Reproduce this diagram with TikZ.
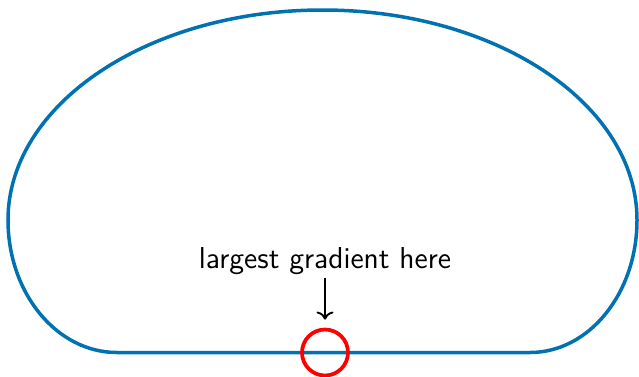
\documentclass[tikz,border=0pt]{standalone}
\usepackage{tikz}
\usetikzlibrary{arrows.meta, positioning, calc}
\definecolor{curveblue}{RGB}{0,114,178}
\tikzstyle{arrow} = [line width=0.75pt, ->]

\begin{document}
\begin{tikzpicture}[
	x=0.4pt, y=0.4pt,
	outline/.style={draw=curveblue, line width=1.4pt},
	spot/.style={circle, draw=red, line width=1.5pt, minimum size=18.4pt, inner sep=0pt},
	note/.style={font=\sffamily\fontsize{12.1}{14.5}\selectfont, inner sep=1pt}
]
\useasboundingbox (0,0) rectangle (639,376);

% Outline
\draw[outline] (117,23.5) -- (530,23.5)
	arc[start angle=-90, end angle=0, x radius=107, y radius=132.5]
	arc[start angle=0, end angle=180, x radius=314.5, y radius=210]
	arc[start angle=180, end angle=270, x radius=109, y radius=132.5];

% Nodes
\node[spot] (S) at (325,23.5) {};
\node[note] (L) at (325,115) {largest gradient here};

% Pointer
\draw[arrow] (L) -- ($(S.north)+(0,8)$);

\end{tikzpicture}
\end{document}
